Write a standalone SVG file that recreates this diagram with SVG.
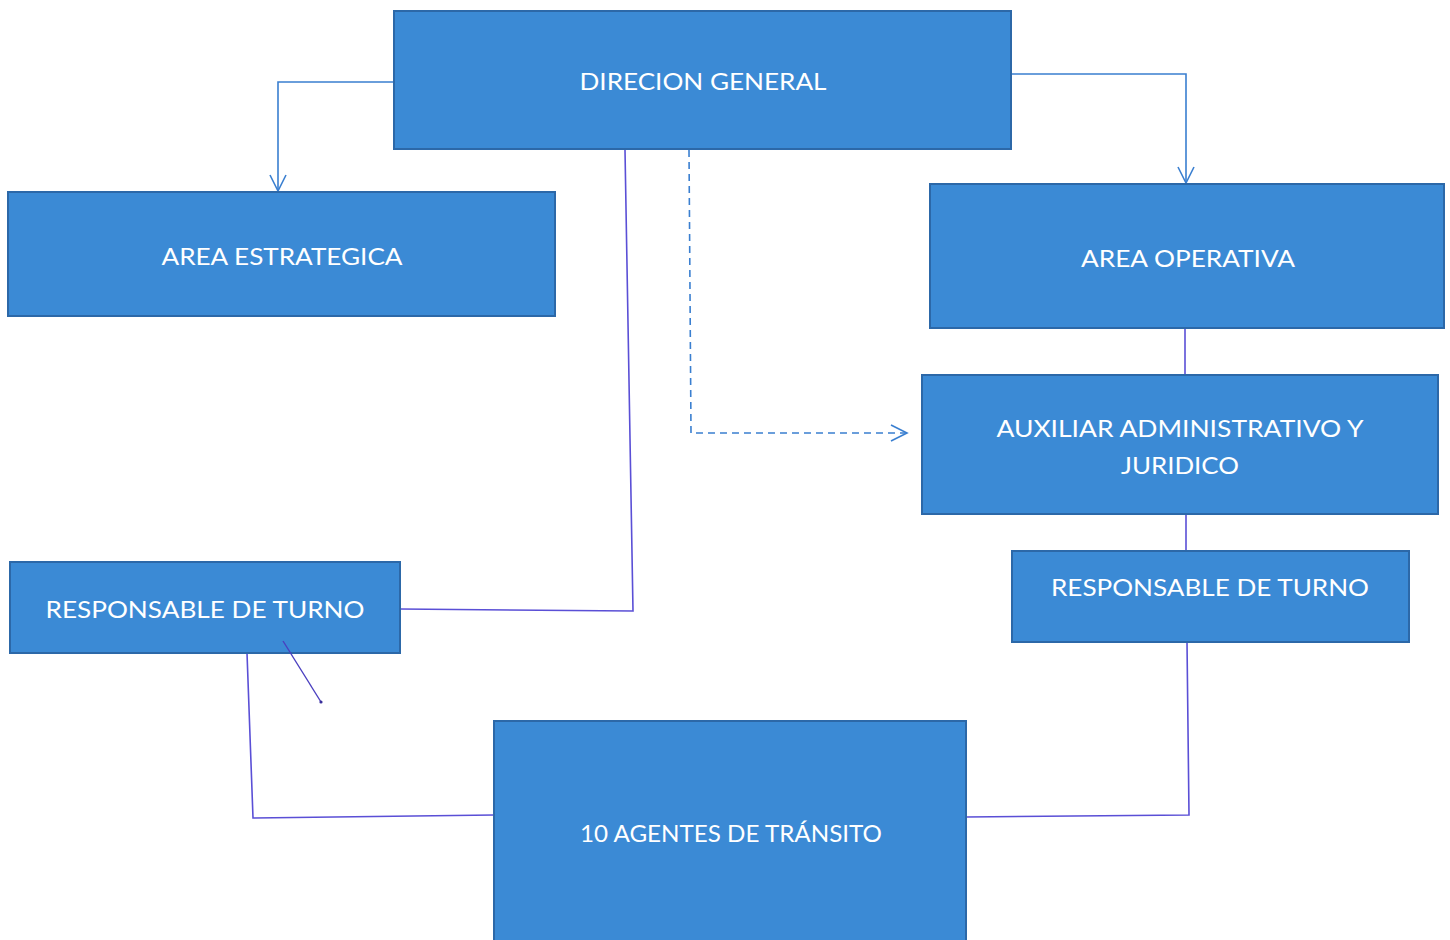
<svg xmlns="http://www.w3.org/2000/svg" width="1450" height="940" viewBox="0 0 1450 940">
<defs>
<style>
.box{fill:#3b8ad5;stroke:#2c68a8;stroke-width:2}
.lbl{fill:#ffffff;font-family:Lato,"Open Sans","Liberation Sans",sans-serif;font-size:24px;text-anchor:middle}
.blue{fill:none;stroke:#3a7fd0;stroke-width:1.6}
.dash{fill:none;stroke:#3a7fd0;stroke-width:1.6;stroke-dasharray:7 5}
.pur{fill:none;stroke:#5a4fd6;stroke-width:1.6}
</style>
<marker id="arr" viewBox="0 0 20 20" refX="18" refY="10" markerWidth="20" markerHeight="20" markerUnits="userSpaceOnUse" orient="auto">
<path d="M2 2 L18 10 L2 18" fill="none" stroke="#3a7fd0" stroke-width="1.6"/>
</marker>
</defs>
<rect width="1450" height="940" fill="#ffffff"/>
<g id="connectors">
<polyline class="blue" points="394,82 278,82 278,191" marker-end="url(#arr)"/>
<polyline class="blue" points="1011,74 1186,74 1186,183" marker-end="url(#arr)"/>
<polyline class="dash" points="689,150 691,433 907,433" marker-end="url(#arr)"/>
<polyline class="pur" points="625,150 633,611 400,609"/>
<line class="pur" x1="1185" y1="328" x2="1185" y2="374"/>
<line class="pur" x1="1186" y1="514" x2="1186" y2="550"/>
<polyline class="pur" points="1187,642 1189,815 966,817"/>
<polyline class="pur" points="247,653 253,818 494,815"/>
</g>
<g id="n-direcion">
<rect class="box" x="394" y="11" width="617" height="138"/>
<text class="lbl" x="703" y="90" textLength="247" lengthAdjust="spacingAndGlyphs">DIRECION GENERAL</text>
</g>
<g id="n-estrategica">
<rect class="box" x="8" y="192" width="547" height="124"/>
<text class="lbl" x="282" y="265" textLength="241" lengthAdjust="spacingAndGlyphs">AREA ESTRATEGICA</text>
</g>
<g id="n-operativa">
<rect class="box" x="930" y="184" width="514" height="144"/>
<text class="lbl" x="1188" y="267" textLength="214" lengthAdjust="spacingAndGlyphs">AREA OPERATIVA</text>
</g>
<g id="n-auxiliar">
<rect class="box" x="922" y="375" width="516" height="139"/>
<text class="lbl" x="1180" y="437" textLength="367" lengthAdjust="spacingAndGlyphs">AUXILIAR ADMINISTRATIVO Y</text>
<text class="lbl" x="1180" y="474" textLength="118" lengthAdjust="spacingAndGlyphs">JURIDICO</text>
</g>
<g id="n-resp-izq">
<rect class="box" x="10" y="562" width="390" height="91"/>
<text class="lbl" x="205" y="618" textLength="319" lengthAdjust="spacingAndGlyphs">RESPONSABLE DE TURNO</text>
</g>
<g id="n-resp-der">
<rect class="box" x="1012" y="551" width="397" height="91"/>
<text class="lbl" x="1210" y="596" textLength="318" lengthAdjust="spacingAndGlyphs">RESPONSABLE DE TURNO</text>
</g>
<g id="n-agentes">
<rect class="box" x="494" y="721" width="472" height="225"/>
<text class="lbl" x="731" y="842" textLength="302" lengthAdjust="spacingAndGlyphs">10 AGENTES DE TRÁNSITO</text>
</g>
<g id="pen-mark">
<path d="M283 641 L321 702" fill="none" stroke="#4a3fc0" stroke-width="1.4"/>
<circle cx="321" cy="702" r="1.6" fill="#3a2f9a"/>
</g>
</svg>
